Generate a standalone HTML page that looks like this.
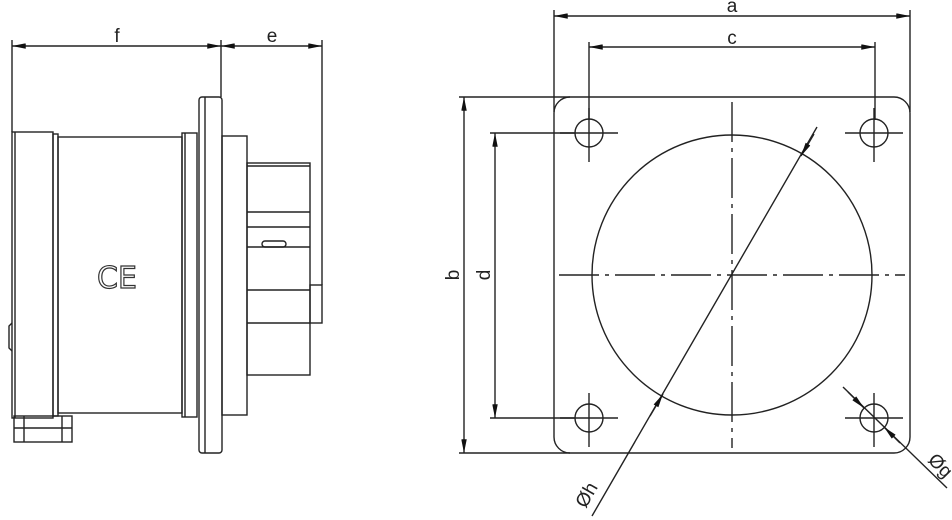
<!DOCTYPE html>
<html><head><meta charset="utf-8"><style>
html,body{margin:0;padding:0;background:#fff;}
svg{display:block;}
text{font-family:"Liberation Sans",sans-serif;fill:#222;}
</style></head><body>
<svg width="952" height="520" viewBox="0 0 952 520" xmlns="http://www.w3.org/2000/svg">
<defs>
<marker id="ar" viewBox="0 0 10 4" refX="10" refY="2" markerWidth="15" markerHeight="5.5" orient="auto-start-reverse" markerUnits="userSpaceOnUse"><path d="M0,0 L10,2 L0,4 z" fill="#111"/></marker>
</defs>
<g stroke="#222" stroke-width="1.4" fill="none">
<line x1="12" y1="40" x2="12" y2="132"/>
<line x1="221" y1="40" x2="221" y2="97"/>
<line x1="322" y1="40" x2="322" y2="285"/>
<line x1="12" y1="46" x2="221" y2="46" marker-start="url(#ar)" marker-end="url(#ar)"/>
<line x1="221" y1="46" x2="322" y2="46" marker-start="url(#ar)" marker-end="url(#ar)"/>
<rect x="12" y="132" width="41" height="286"/>
<line x1="15" y1="132" x2="15" y2="418"/>
<rect x="53" y="134" width="5" height="282"/>
<path d="M12,323 l-3,3 v22 l3,3"/>
<rect x="14" y="416" width="58" height="26"/>
<line x1="24" y1="416" x2="24" y2="442"/>
<line x1="62" y1="416" x2="62" y2="442"/>
<line x1="14" y1="428" x2="72" y2="428"/>
<rect x="58" y="137" width="124" height="276"/>
<rect x="182" y="133" width="15" height="284"/>
<line x1="185" y1="133" x2="185" y2="417"/>
<rect x="199" y="97" width="23" height="356" rx="3"/>
<line x1="205" y1="97" x2="205" y2="453"/>
<rect x="222" y="136" width="25" height="279"/>
<rect x="247" y="163" width="63" height="212"/>
<line x1="247" y1="166" x2="310" y2="166"/>
<line x1="247" y1="212" x2="310" y2="212"/>
<line x1="247" y1="227" x2="310" y2="227"/>
<line x1="247" y1="247" x2="310" y2="247"/>
<line x1="247" y1="290" x2="310" y2="290"/>
<line x1="247" y1="323" x2="310" y2="323"/>
<rect x="310" y="285" width="12" height="38"/>
<rect x="262" y="241" width="24" height="6" rx="3"/>
<line x1="554" y1="10" x2="554" y2="112"/>
<line x1="910" y1="10" x2="910" y2="112"/>
<line x1="554" y1="16" x2="910" y2="16" marker-start="url(#ar)" marker-end="url(#ar)"/>
<line x1="589" y1="42" x2="589" y2="120"/>
<line x1="875" y1="42" x2="875" y2="120"/>
<line x1="589" y1="47" x2="875" y2="47" marker-start="url(#ar)" marker-end="url(#ar)"/>
<line x1="459" y1="97" x2="570" y2="97"/>
<line x1="459" y1="453" x2="570" y2="453"/>
<line x1="464" y1="97" x2="464" y2="453" marker-start="url(#ar)" marker-end="url(#ar)"/>
<line x1="490" y1="133" x2="575" y2="133"/>
<line x1="490" y1="418" x2="575" y2="418"/>
<line x1="495" y1="133" x2="495" y2="418" marker-start="url(#ar)" marker-end="url(#ar)"/>
<rect x="554" y="97" width="356" height="356" rx="16"/>
<circle cx="732" cy="275" r="140"/>
<g stroke-dasharray="40,6,4,6">
<line x1="732" y1="102" x2="732" y2="448"/>
<line x1="559" y1="275" x2="905" y2="275"/>
</g>
<circle cx="589" cy="133" r="14"/><circle cx="874" cy="133" r="14"/>
<circle cx="589" cy="418" r="14"/><circle cx="874" cy="418" r="14"/>
<path d="M560,133h58M589,108v54M845,133h58M874,108v54M560,418h58M589,393v54M845,418h58M874,393v54"/>
<line x1="592" y1="516" x2="817" y2="127"/>
<line x1="650" y1="416" x2="663" y2="394" marker-end="url(#ar)"/>
<line x1="814" y1="134" x2="801" y2="156" marker-end="url(#ar)"/>
<line x1="843" y1="387" x2="947" y2="488"/>
<line x1="848" y1="392" x2="864" y2="408" marker-end="url(#ar)"/>
<line x1="900" y1="443" x2="884" y2="427" marker-end="url(#ar)"/>
</g>
<text x="117" y="288" font-size="30" text-anchor="middle" style="font-family:'DejaVu Sans',sans-serif;fill:none;stroke:#333;stroke-width:1.2">CE</text>
<text x="117" y="42" font-size="19" text-anchor="middle">f</text>
<text x="272" y="42" font-size="19" text-anchor="middle">e</text>
<text x="732" y="12" font-size="19" text-anchor="middle">a</text>
<text x="732" y="44" font-size="19" text-anchor="middle">c</text>
<text transform="translate(459,275) rotate(-90)" font-size="19" text-anchor="middle">b</text>
<text transform="translate(490,275) rotate(-90)" font-size="19" text-anchor="middle">d</text>
<text transform="translate(592,498) rotate(-60)" font-size="19" text-anchor="middle">Øh</text>
<text transform="translate(936,470) rotate(45)" font-size="19" text-anchor="middle">Øg</text>
</svg>
</body></html>
